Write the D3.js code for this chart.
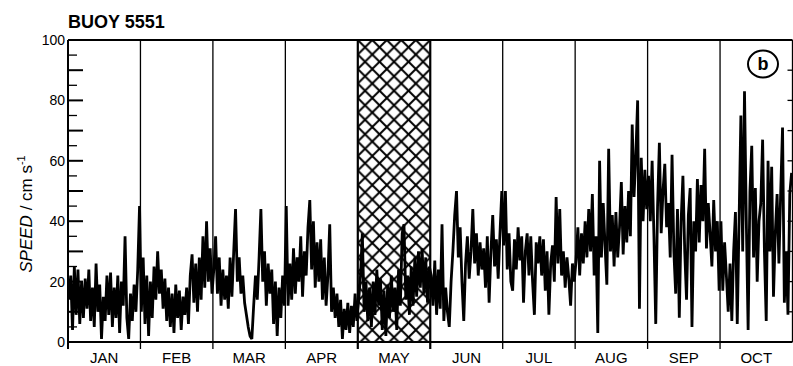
<!DOCTYPE html>
<html>
<head>
<meta charset="utf-8">
<script src="https://cdn.jsdelivr.net/npm/d3@7"></script>
<style>
  body { margin: 0; background: #fff; }
  text { font-family: "Liberation Sans", Arial, sans-serif; fill: #000; }
</style>
</head>
<body>
<div id="chart"></div>
<script>
// buoy 5551 - speed per month, Jan..Oct
const monthNames = ['JAN', 'FEB', 'MAR', 'APR', 'MAY', 'JUN', 'JUL', 'AUG', 'SEP', 'OCT'];
const yLabels = [0, 20, 40, 60, 80, 100];

const jan = [14, 22, 4, 25, 9, 24, 6, 20, 8, 21, 11, 24, 7, 18, 5, 26, 10, 19, 1, 15, 7, 22, 9, 23, 5, 18, 8, 22, 3, 20, 12, 35, 8, 1, 16, 7, 19, 10, 24, 45];
const feb = [10, 28, 6, 22, 2, 20, 8, 25, 14, 30, 16, 24, 11, 21, 7, 18, 5, 16, 3, 19, 8, 17, 4, 15, 9, 18, 6, 22, 29, 13, 26, 10, 28, 14, 35, 18, 40, 20, 31, 16];
const mar = [24, 35, 16, 28, 12, 24, 14, 22, 11, 28, 15, 30, 44, 20, 28, 16, 22, 13, 9, 5, 2, 1, 12, 22, 14, 28, 44, 20, 30, 12, 26, 16, 24, 6, 20, 2, 18, 8, 22, 12];
const apr = [45, 12, 26, 14, 31, 16, 28, 20, 35, 15, 30, 22, 38, 47, 24, 40, 18, 33, 20, 34, 14, 28, 12, 22, 39, 10, 18, 8, 16, 5, 14, 1, 11, 4, 13, 3, 12, 5, 16, 7];
const may = [14, 22, 36, 10, 20, 7, 18, 5, 20, 9, 24, 12, 21, 4, 17, 2, 19, 8, 22, 10, 18, 4, 24, 12, 36, 39, 14, 22, 9, 25, 12, 28, 15, 30, 18, 31, 16, 28, 13, 25];
const jun = [22, 12, 27, 9, 24, 11, 39, 7, 18, 10, 5, 20, 30, 42, 50, 28, 38, 20, 7, 26, 35, 21, 30, 44, 26, 36, 22, 33, 24, 31, 18, 35, 13, 30, 42, 25, 34, 21, 36, 50];
const jul = [32, 50, 24, 36, 20, 17, 34, 24, 38, 27, 35, 13, 30, 36, 22, 35, 20, 9, 33, 26, 35, 22, 34, 17, 30, 9, 26, 32, 20, 48, 26, 44, 22, 30, 18, 28, 21, 12, 26, 20];
const aug = [27, 38, 22, 36, 26, 40, 28, 44, 30, 49, 22, 35, 3, 60, 28, 46, 32, 19, 64, 30, 42, 25, 43, 28, 38, 53, 29, 45, 33, 50, 35, 72, 48, 62, 80, 11, 61, 40, 57, 44];
const sep = [55, 40, 60, 35, 6, 45, 66, 36, 50, 59, 38, 46, 28, 62, 30, 16, 44, 8, 40, 55, 30, 14, 42, 51, 5, 40, 30, 54, 33, 52, 40, 64, 31, 46, 36, 25, 47, 30, 40, 17];
const oct = [40, 17, 33, 22, 10, 26, 7, 30, 43, 6, 40, 75, 30, 83, 40, 4, 50, 65, 28, 51, 20, 40, 46, 67, 30, 7, 60, 30, 58, 15, 36, 49, 26, 50, 71, 13, 30, 9, 49, 56];

const perMonth = [jan, feb, mar, apr, may, jun, jul, aug, sep, oct];
const gapMonth = 4; // MAY is hatched

const W = 793, H = 366;
const m = {left: 68, right: 792.5, top: 40, bottom: 342};

const svg = d3.select('#chart').append('svg')
  .attr('width', W)
  .attr('height', H);

const x = d3.scaleLinear().domain([0, 10]).range([m.left, m.right]);
const y = d3.scaleLinear().domain([0, 100]).range([m.bottom, m.top]);

// crosshatch pattern
const pat = svg.append('defs').append('pattern')
  .attr('id', 'hatch')
  .attr('patternUnits', 'userSpaceOnUse')
  .attr('width', 14.5)
  .attr('height', 14.5)
  .attr('x', x(gapMonth))
  .attr('y', m.top);
pat.append('path')
  .attr('d', 'M0,0L14.5,14.5M14.5,0L0,14.5M-2,12.5L2,16.5M12.5,-2L16.5,2')
  .attr('stroke', '#000')
  .attr('stroke-width', 2);

svg.append('rect')
  .attr('x', x(gapMonth))
  .attr('y', m.top)
  .attr('width', x(gapMonth + 1) - x(gapMonth))
  .attr('height', m.bottom - m.top)
  .attr('fill', 'url(#hatch)');

// month boundaries
svg.selectAll('.mline')
  .data(d3.range(0, 11))
  .enter()
  .append('line')
  .attr('class', 'mline')
  .attr('x1', d => x(d))
  .attr('x2', d => x(d))
  .attr('y1', m.top)
  .attr('y2', d => d === 10 ? m.bottom : m.bottom + 7)
  .attr('stroke', '#000')
  .attr('stroke-width', d => (d === gapMonth || d === gapMonth + 1) ? 2.2 : 1.3);

// frame top + bottom + left
svg.append('line')
  .attr('x1', m.left).attr('x2', m.right)
  .attr('y1', m.top).attr('y2', m.top)
  .attr('stroke', '#000').attr('stroke-width', 2);
svg.append('line')
  .attr('x1', m.left).attr('x2', m.right)
  .attr('y1', m.bottom).attr('y2', m.bottom)
  .attr('stroke', '#000').attr('stroke-width', 2);
svg.append('line')
  .attr('x1', m.left).attr('x2', m.left)
  .attr('y1', m.top).attr('y2', m.bottom + 7)
  .attr('stroke', '#000').attr('stroke-width', 2);

// left ticks, inward
const ticks5 = d3.range(5, 100, 5);
svg.selectAll('.ltick')
  .data(ticks5)
  .enter()
  .append('line')
  .attr('class', 'ltick')
  .attr('x1', m.left)
  .attr('x2', d => d % 10 === 0 ? m.left + 15 : m.left + 9)
  .attr('y1', d => y(d))
  .attr('y2', d => y(d))
  .attr('stroke', '#000')
  .attr('stroke-width', d => d % 10 === 0 ? 2 : 1.3);

// right ticks, inward
svg.selectAll('.rtick')
  .data(d3.range(10, 100, 10))
  .enter()
  .append('line')
  .attr('class', 'rtick')
  .attr('x1', m.right - 5)
  .attr('x2', m.right)
  .attr('y1', d => y(d))
  .attr('y2', d => y(d))
  .attr('stroke', '#000')
  .attr('stroke-width', 1.3);

svg.selectAll('.ylab')
  .data(yLabels)
  .enter()
  .append('text')
  .attr('class', 'ylab')
  .attr('x', m.left - 3)
  .attr('y', d => y(d))
  .attr('dy', '0.36em')
  .attr('text-anchor', 'end')
  .style('font-size', '14px')
  .text(d => d);

svg.selectAll('.mlab')
  .data(monthNames)
  .enter()
  .append('text')
  .attr('class', 'mlab')
  .attr('x', (d, i) => x(i + 0.5))
  .attr('y', 363)
  .attr('text-anchor', 'middle')
  .style('font-size', '15px')
  .text(d => d);

// data line
const pts = [];
perMonth.forEach(function(arr, k){
  arr.forEach(function(v, i){
    pts.push({t: k + (i + 0.5) / arr.length, v: v});
  });
});

const line = d3.line()
  .x(d => x(d.t))
  .y(d => y(d.v));

svg.append('path')
  .datum(pts)
  .attr('d', line)
  .attr('fill', 'none')
  .attr('stroke', '#000')
  .attr('stroke-width', 2.8)
  .attr('stroke-linejoin', 'bevel');

// title
svg.append('text')
  .attr('x', m.left)
  .attr('y', 28)
  .style('font-size', '18px')
  .style('font-weight', 'bold')
  .text('BUOY 5551');

// y label
const ylab = svg.append('text')
  .attr('transform', 'translate(32,214) rotate(-90)')
  .attr('text-anchor', 'middle')
  .style('font-size', '17px');
ylab.append('tspan').style('font-style', 'italic').text('SPEED');
ylab.append('tspan').text(' / cm s');
ylab.append('tspan').attr('dy', -7).style('font-size', '11px').text('-1');

// panel letter
svg.append('ellipse')
  .attr('cx', 763).attr('cy', 64)
  .attr('rx', 15).attr('ry', 13.5)
  .attr('fill', '#fff')
  .attr('stroke', '#000')
  .attr('stroke-width', 2);
svg.append('text')
  .attr('x', 763).attr('y', 70)
  .attr('text-anchor', 'middle')
  .style('font-size', '18px')
  .style('font-weight', 'bold')
  .text('b');
</script>
</body>
</html>
